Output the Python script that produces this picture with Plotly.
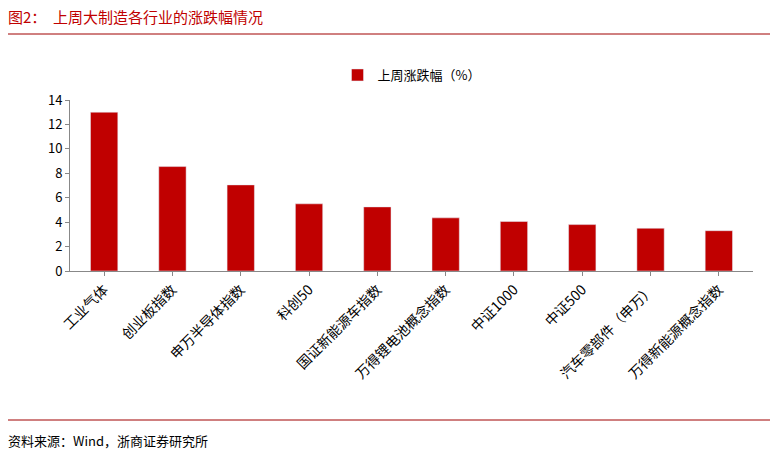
import plotly.graph_objects as go

categories = ['工业气体', '创业板指数', '申万半导体指数', '科创50', '国证新能源车指数',
              '万得锂电池概念指数', '中证1000', '中证500', '汽车零部件（申万）', '万得新能源概念指数']
values = [13.0, 8.55, 7.05, 5.5, 5.25, 4.35, 4.05, 3.8, 3.5, 3.3]

font = 'Noto Sans CJK SC'
red = '#C00000'

fig = go.Figure(go.Bar(x=categories, y=values, marker_color=red, width=0.4,
                       name='上周涨跌幅（%）', showlegend=True))

# page has an 8px body margin, so target screen pixels are shifted by 8
OFF = 8


# paper coordinates: plot area spans screen pixels y 100..271, x 70..753
def py(p):
    return (271 - p) / 171


def px(p):
    return (p - 70) / 683


fig.update_layout(
    width=778, height=454,
    margin=dict(l=70 - OFF, r=25 + OFF, t=100 - OFF, b=183 + OFF),
    plot_bgcolor='white', paper_bgcolor='white',
    font=dict(family=font, size=13, color='black'),
    showlegend=True,
    legend=dict(orientation='h', x=0.5, xanchor='center', y=py(75), yanchor='middle',
                font=dict(size=13)),
    xaxis=dict(tickangle=-45, showline=True, linecolor='#888', ticks='outside',
               ticklen=4, tickcolor='#888', tickfont=dict(size=14)),
    yaxis=dict(range=[0, 14], dtick=2, showline=True, linecolor='#888', ticks='outside',
               ticklen=4, tickcolor='#888', showgrid=False, zeroline=False,
               tickfont=dict(size=13)),
    shapes=[
        dict(type='line', xref='paper', yref='paper', x0=px(5), x1=px(773),
             y0=py(34), y1=py(34), line=dict(color='#A00000', width=1)),
        dict(type='line', xref='paper', yref='paper', x0=px(5), x1=px(773),
             y0=py(420), y1=py(420), line=dict(color='#A00000', width=1)),
    ],
    annotations=[
        dict(text='图2：  上周大制造各行业的涨跌幅情况', xref='paper', yref='paper',
             x=px(6), y=py(16), xanchor='left', yanchor='middle', showarrow=False,
             font=dict(size=15, color=red)),
        dict(text='资料来源：Wind，浙商证券研究所', xref='paper', yref='paper',
             x=px(6), y=py(440), xanchor='left', yanchor='middle', showarrow=False,
             font=dict(size=13, color='black')),
    ],
)

fig.write_html("out.html")
